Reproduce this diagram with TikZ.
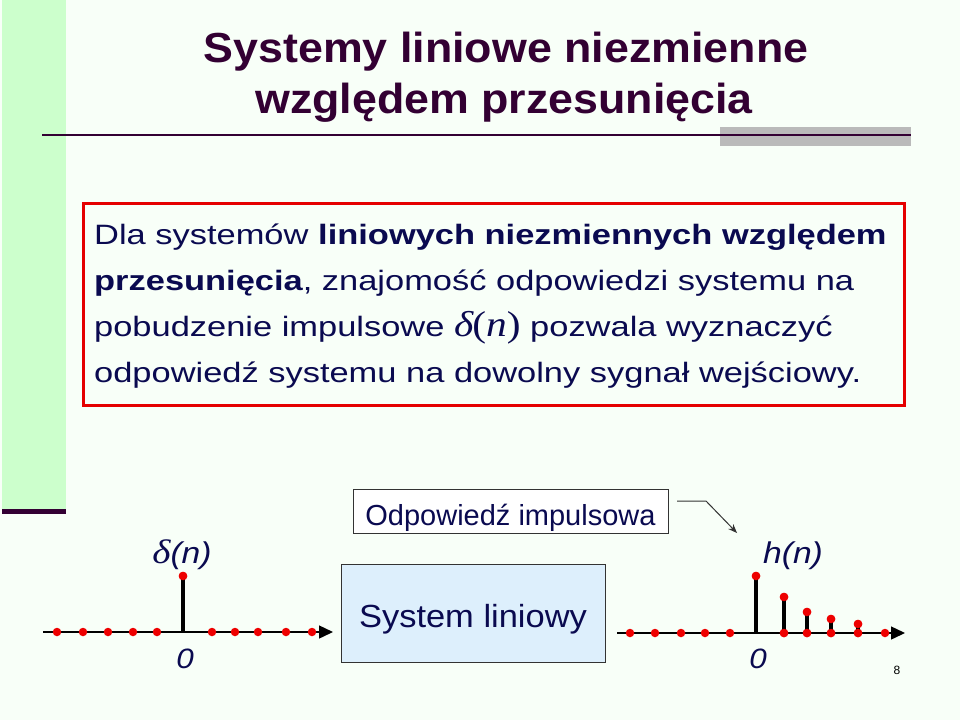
\documentclass[tikz,border=0pt]{standalone}
\usepackage{fontspec}
\setmainfont{Liberation Sans}
\newfontfamily\tms{Liberation Serif}
\newfontfamily\titlefont{Liberation Sans}[FakeStretch=1.066]
\newfontfamily\bodyfont{Liberation Sans}[FakeStretch=1.23]
\newfontfamily\lblfont{Liberation Sans}[FakeStretch=1.12]
\newfontfamily\sysfont{Liberation Sans}[FakeStretch=1.077]
\newfontfamily\tmsw{Liberation Serif}[FakeStretch=1.15]
\usetikzlibrary{arrows.meta}
\definecolor{bg}{HTML}{F8FFF8}
\definecolor{greenstrip}{HTML}{CCFFCC}
\definecolor{titlec}{HTML}{330033}
\definecolor{navy}{HTML}{0A0A50}
\definecolor{dotred}{HTML}{EE0000}
\definecolor{boxblue}{HTML}{DDEFFC}
\tikzset{
  titletext/.style={text=titlec, font=\titlefont\fontsize{42}{46}\selectfont\bfseries, inner sep=0, anchor=base},
  bodytext/.style={text=navy, font=\bodyfont\fontsize{28}{32}\selectfont, inner sep=0, anchor=base west},
  dot/.style={circle, fill=dotred, inner sep=0, minimum size=8.5},
  axisline/.style={line width=1.4, -{Triangle[length=14,width=13]}},
  stemline/.style={line width=3.6},
  lbl/.style={text=navy, font=\lblfont\fontsize{30}{32}\selectfont\itshape, inner sep=0, anchor=base},
  zero/.style={text=navy, font=\lblfont\fontsize{28}{32}\selectfont\itshape, inner sep=0, anchor=base}
}
\begin{document}
\begin{tikzpicture}[x=1pt,y=-1pt]
\useasboundingbox (0,0) rectangle (960,720);
\fill[bg] (0,0) rectangle (960,720);
\fill[greenstrip] (2,0) rectangle (66,510);
\fill[titlec] (2,509) rectangle (66,514);
\fill[black!27] (720,127) rectangle (911,146);
\draw[titlec, line width=1.8] (42,135) -- (911,135);

\node[titletext] (t1) at (506,62) {Systemy liniowe niezmienne};
\node[titletext] (t2) at (504,113) {względem przesunięcia};

\node[draw=red!90!black, line width=2.5, minimum width=821, minimum height=202, inner sep=0, anchor=north west] (box) at (82,202) {};
\node[bodytext] (l1) at (94,244) {Dla systemów \textbf{liniowych niezmiennych względem}};
\node[bodytext] (l2) at (94,290) {\textbf{przesunięcia}, znajomość odpowiedzi systemu na};
\node[bodytext] (l3) at (94,336) {pobudzenie impulsowe {\tmsw\fontsize{36}{38}\selectfont\itshape δ\kern-1pt\upshape(\itshape n\upshape)} pozwala wyznaczyć};
\node[bodytext] (l4) at (94,382) {odpowiedź systemu na dowolny sygnał wejściowy.};

% boxes
\node[draw=black!80, line width=1, fill=white, minimum width=315, minimum height=44, inner sep=0, anchor=north west] (resp) at (353,489) {};
\node[text=navy, font=\fontsize{29}{32}\selectfont, inner sep=0, anchor=base] (respt) at (510.5,525) {Odpowiedź impulsowa};
\node[draw=black!80, line width=1, fill=boxblue, minimum width=264, minimum height=98, inner sep=0, anchor=north west] (sys) at (341,564) {};
\node[text=navy, font=\sysfont\fontsize{32}{36}\selectfont, inner sep=0, anchor=base] (syst) at (473,627) {System liniowy};

% left axis
\coordinate (la0) at (43,632);
\coordinate (la1) at (333,632);
\draw[axisline] (la0) -- (la1);
\foreach \x [count=\i] in {57,83,108,133,157,212,235,258,286,312} {
  \node[dot] (ld\i) at (\x,632) {};
}
\coordinate (ls0) at (183,632);
\node[dot] (lstop) at (183,576) {};
\draw[stemline] (ls0) -- (lstop.center);
\node[dot] at (lstop) {};
\node[lbl] (dl) at (182,563) {{\tmsw\fontsize{34}{36}\selectfont δ}(n)};
\node[zero] (z1) at (185,668) {0};

% right axis
\coordinate (ra0) at (617,633);
\coordinate (ra1) at (905,633);
\draw[axisline] (ra0) -- (ra1);
\foreach \x [count=\i] in {630,655,681,705,730,784,807,831,858,885} {
  \node[dot] (rd\i) at (\x,633) {};
}
\foreach \x/\h [count=\i] in {756/576,784/597,807/612,831/619,858/624} {
  \coordinate (rb\i) at (\x,633);
  \node[dot] (rt\i) at (\x,\h) {};
  \draw[stemline] (rb\i) -- (rt\i.center);
  \node[dot] at (rt\i) {};
}
\node[dot] at (rd6) {};
\node[dot] at (rd7) {};
\node[dot] at (rd8) {};
\node[dot] at (rd9) {};
\node[lbl] (hl) at (793,563) {h(n)};
\node[zero] (z2) at (758,668) {0};

% pointer arrow
\coordinate (pa0) at (677,501);
\coordinate (pa1) at (706,501);
\coordinate (pa2) at (737,533);
\draw[black!80, line width=1, -{Stealth[length=9,width=7]}] (pa0) -- (pa1) -- (pa2);

\node[text=black, font=\fontsize{12}{14}\selectfont, inner sep=0, anchor=base] (pg) at (897,674) {8};
\end{tikzpicture}
\end{document}
